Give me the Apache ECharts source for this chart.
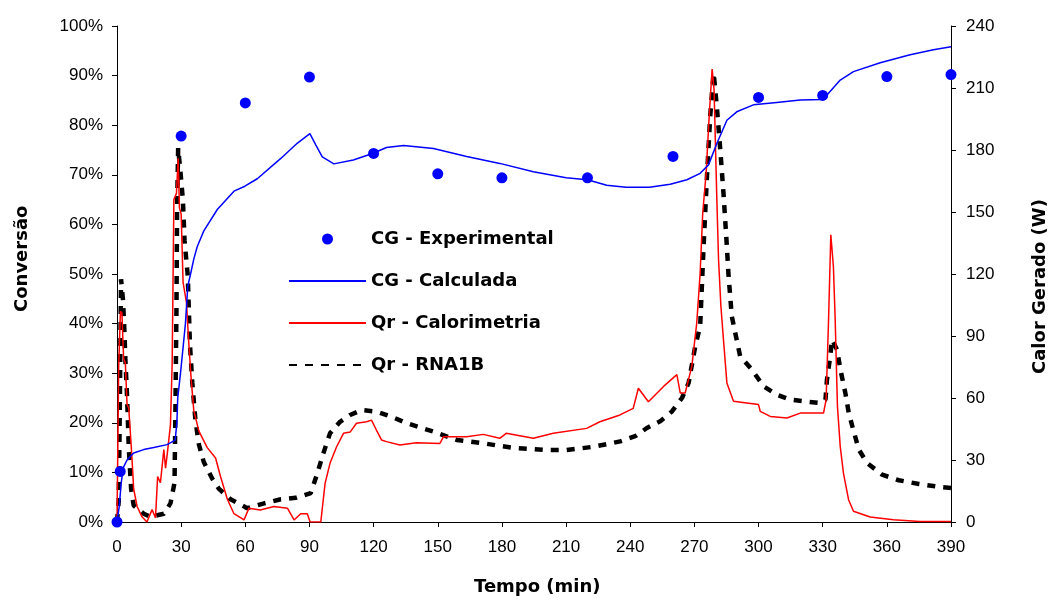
<!DOCTYPE html>
<html>
<head>
<meta charset="utf-8">
<script src="https://cdn.jsdelivr.net/npm/echarts@6/dist/echarts.min.js"></script>
<style>
  html, body { margin: 0; padding: 0; background: #fff; }
  #chart { width: 1051px; height: 603px; }
</style>
</head>
<body>
<div id="chart"></div>
<script>
// eixo x: tempo (min)
var xTicks = [0, 30, 60, 90, 120, 150, 180, 210, 240, 270, 300, 330, 360, 390];

// CG - Experimental  [tempo, conversao %]
var cgExperimental = [[0, 0], [1.5, 10.2], [30, 77.8], [60, 84.5], [90, 89.7], [120, 74.3], [150, 70.2],
  [180, 69.4], [220, 69.4], [260, 73.7], [300, 85.6], [330, 86], [360, 89.8], [390, 90.2]];

// CG - Calculada  [tempo, conversao %]
var cgCalculada = [[0, 0], [1, 3], [2, 8], [3, 11], [4.7, 12.5], [7.8, 13.9], [12.5, 14.6], [17.2, 15],
  [23.4, 15.6], [27.2, 16.5], [28, 20], [28.4, 25], [29.7, 30], [32, 40], [33.1, 47.5], [34.4, 50],
  [35.9, 53], [37.5, 55.5], [40.6, 58.7], [46.9, 63], [54.7, 66.7], [59.8, 67.7], [65.6, 69.2],
  [76.6, 73.3], [84.4, 76.4], [90.2, 78.3], [93, 76], [96, 73.6], [101.4, 72.2], [110.5, 73],
  [119.5, 74.3], [126, 75.5], [134, 75.9], [148, 75.3], [163.5, 73.7], [179, 72.3], [194.7, 70.6],
  [210, 69.4], [220, 69], [229, 67.9], [238, 67.5], [249, 67.5], [258.7, 68.1], [266.5, 69],
  [272.7, 70.3], [276.6, 72], [280.5, 76.3], [285.2, 81], [289.8, 82.7], [297.6, 84.1], [308.5, 84.6],
  [319.5, 85.1], [329.6, 85.2], [332, 86.1], [338.2, 89.1], [344.4, 90.8], [356.9, 92.6], [370.9, 94.2],
  [381.8, 95.2], [390, 95.8]];

// Qr - Calorimetria  [tempo, W]
var qrCalorimetria = [[0, 0], [0.8, 75], [1.6, 102], [2.3, 101], [3.1, 79], [3.9, 77], [4.7, 57], [5.5, 55],
  [6.2, 44], [7, 31], [7.8, 16], [9.4, 7.5], [11.7, 2.5], [14, 0], [16.4, 6], [18, 2], [19, 22], [20.3, 19],
  [21.9, 35], [22.7, 26], [23.4, 32], [25, 47], [25.8, 77], [26.6, 156], [27.8, 159], [28.6, 176],
  [29.2, 152], [30, 149], [30.9, 116], [32.5, 106], [33.6, 86], [34.7, 69], [35.9, 54], [38.3, 44],
  [42.2, 36], [46.1, 31], [48.4, 22], [51.6, 11], [54.7, 4], [59.4, 1], [61.7, 6.7], [67, 5.8], [73.4, 7.5],
  [79.7, 6.7], [82.8, 1], [85.9, 4], [89, 4], [90.3, 0], [95.3, 0], [97.3, 18.7], [99.6, 28.4],
  [102.7, 36.4], [105.9, 42.9], [109, 43.5], [112, 47.8], [116.7, 48.5], [119, 49.3], [121.3, 44.5],
  [123.7, 39.7], [126, 38.9], [132.3, 37.3], [140, 38.4], [151, 38], [152.7, 41.3], [163.5, 41.3],
  [171.3, 42.4], [179, 40.5], [182, 42.9], [194.7, 40.5], [204, 42.9], [219.6, 45.3], [225.8, 48.5],
  [235.2, 51.8], [241.4, 55], [243.8, 64.7], [248.5, 58.2], [255.6, 65.6], [261.8, 71.3], [263.4, 62.4],
  [265.7, 62.4], [268.8, 75.3], [271.1, 96.3], [272.7, 120.5], [273.9, 149.5], [275.5, 168.9], [277, 197.9],
  [278.3, 219.2], [279.2, 209.2], [280.5, 156], [281.3, 127], [282.4, 104.4], [283.6, 88.2], [285.2, 67.3],
  [288.3, 58.4], [294.5, 57.6], [300, 56.8], [300.8, 53.5], [305.5, 51.1], [313.3, 50.3], [319.5, 52.7],
  [330.4, 52.7], [331.6, 59.2], [332.7, 96.3], [333.8, 139], [335, 123.7], [335.8, 99.5], [336.9, 56],
  [338.2, 36.6], [339.7, 23.7], [342.1, 10.8], [344.4, 5.2], [352.2, 2.4], [363.1, 1.1], [375.6, 0.3],
  [390, 0.3]];

// Qr - RNA1B  [tempo, W]
var qrRna1b = [[0, 0], [0.8, 10], [1.2, 44], [1.9, 117.5], [2.8, 107.5], [3.4, 94], [3.9, 79], [4.7, 61],
  [5.5, 36], [6.6, 16], [7.8, 8], [12.5, 4], [15.6, 2.5], [21.9, 4], [25, 9], [26.9, 19], [27.3, 52.5],
  [27.8, 102.5], [28.1, 152.5], [28.6, 181], [29.7, 169], [30.8, 156], [31.6, 136], [33.1, 119], [34.1, 86],
  [35.2, 67.5], [36.7, 49], [38.3, 37.5], [40.6, 29], [44.5, 21], [47.7, 16], [53.1, 11], [60.9, 6.7],
  [68.8, 9], [76.6, 11], [83.6, 11.7], [90.6, 14], [93.4, 22.7], [96.5, 33.2], [99.6, 42.9], [104.3, 48.5],
  [109, 51.8], [114.4, 54.2], [121.5, 53.4], [128.5, 50.9], [135.5, 47.8], [148, 43.7], [158.9, 39.7],
  [171.3, 38.1], [179.1, 36.8], [187, 35.7], [201, 34.8], [210.3, 34.8], [222.8, 36.4], [235.3, 39],
  [242.3, 41.5], [247.8, 45.5], [254, 48.7], [259.5, 53.5], [264.2, 60], [267.3, 67.3], [270.4, 85],
  [272.7, 94.7], [274.3, 133.4], [275.8, 165.6], [277.4, 196.3], [279, 217.3], [280.5, 201], [282.1, 180.2],
  [283.6, 159.2], [284.9, 138.2], [286, 118.9], [287.5, 99.5], [291.4, 80.2], [296.9, 73.7], [302.4, 65.6],
  [308.6, 61.6], [314.8, 59.2], [321.1, 58.4], [328.9, 57.6], [331.3, 59.2], [332, 68.9], [333.3, 78.5],
  [334.4, 88.2], [336.7, 83.4], [338.3, 73.7], [340.6, 62.4], [342.2, 52.7], [344.5, 43.9], [346.9, 35],
  [350.8, 28.5], [357.8, 22.9], [365.6, 20.2], [375, 18.4], [385.2, 16.9], [390, 16.5]];

var tickFont = { color: '#000', fontSize: 17, fontFamily: "'Liberation Sans', Arial, sans-serif" };
var titleFont = { fill: '#000', fontSize: 18, fontWeight: 'bold', fontFamily: "'DejaVu Sans', sans-serif" };

var chart = echarts.init(document.getElementById('chart'));

var option = {
  animation: false,
  backgroundColor: '#fff',
  grid: { left: 117, right: 100, top: 26, bottom: 81, containLabel: false },
  legend: {
    orient: 'vertical',
    left: 288,
    top: 229,
    padding: 0,
    itemWidth: 77,
    itemHeight: 11,
    itemGap: 22,
    textStyle: { color: '#000', fontSize: 18, fontWeight: 'bold', fontFamily: "'DejaVu Sans', sans-serif", lineHeight: 20 },
    data: [
      { name: 'CG - Experimental' },
      { name: 'CG - Calculada', itemStyle: { opacity: 0 } },
      { name: 'Qr - Calorimetria', itemStyle: { opacity: 0 } },
      { name: 'Qr - RNA1B', itemStyle: { opacity: 0 } }
    ]
  },
  xAxis: {
    type: 'value',
    min: 0,
    max: 390,
    interval: 30,
    axisLine: { onZero: false, lineStyle: { color: '#000', width: 1 } },
    axisTick: { show: true, length: 5, lineStyle: { color: '#000' } },
    axisLabel: Object.assign({ margin: 17 }, tickFont),
    splitLine: { show: false }
  },
  yAxis: [{
    type: 'value',
    min: 0,
    max: 100,
    interval: 10,
    position: 'left',
    axisLine: { show: true, lineStyle: { color: '#000', width: 1 } },
    axisTick: { show: true, length: 5, lineStyle: { color: '#000' } },
    axisLabel: Object.assign({ margin: 14, formatter: '{value}%' }, tickFont),
    splitLine: { show: false }
  }, {
    type: 'value',
    min: 0,
    max: 240,
    interval: 30,
    position: 'right',
    axisLine: { show: true, lineStyle: { color: '#000', width: 1 } },
    axisTick: { show: true, length: 5, lineStyle: { color: '#000' } },
    axisLabel: Object.assign({ margin: 15 }, tickFont),
    splitLine: { show: false }
  }],
  graphic: [
    { type: 'text', left: 474, top: 578, style: Object.assign({ text: 'Tempo (min)' }, titleFont) },
    { type: 'text', x: 13, y: 312, rotation: Math.PI / 2, style: Object.assign({ text: 'Conversão' }, titleFont) },
    { type: 'text', x: 1031, y: 374, rotation: Math.PI / 2, style: Object.assign({ text: 'Calor Gerado (W)' }, titleFont) }
  ],
  series: [{
    name: 'Qr - RNA1B',
    type: 'line',
    yAxisIndex: 1,
    data: qrRna1b,
    showSymbol: false,
    symbol: 'none',
    lineStyle: { color: '#000', width: 4.5, type: [8, 8] },
    itemStyle: { color: '#000' },
    z: 2
  }, {
    name: 'Qr - Calorimetria',
    type: 'line',
    yAxisIndex: 1,
    data: qrCalorimetria,
    showSymbol: false,
    symbol: 'none',
    lineStyle: { color: '#ff0000', width: 1.5 },
    itemStyle: { color: '#ff0000' },
    z: 3
  }, {
    name: 'CG - Calculada',
    type: 'line',
    yAxisIndex: 0,
    data: cgCalculada,
    showSymbol: false,
    symbol: 'none',
    lineStyle: { color: '#0000ff', width: 1.5 },
    itemStyle: { color: '#0000ff' },
    z: 4
  }, {
    name: 'CG - Experimental',
    type: 'scatter',
    yAxisIndex: 0,
    data: cgExperimental,
    symbol: 'circle',
    symbolSize: 11,
    itemStyle: { color: '#0000ff', opacity: 1 },
    z: 5
  }]
};

chart.setOption(option);
</script>
</body>
</html>
